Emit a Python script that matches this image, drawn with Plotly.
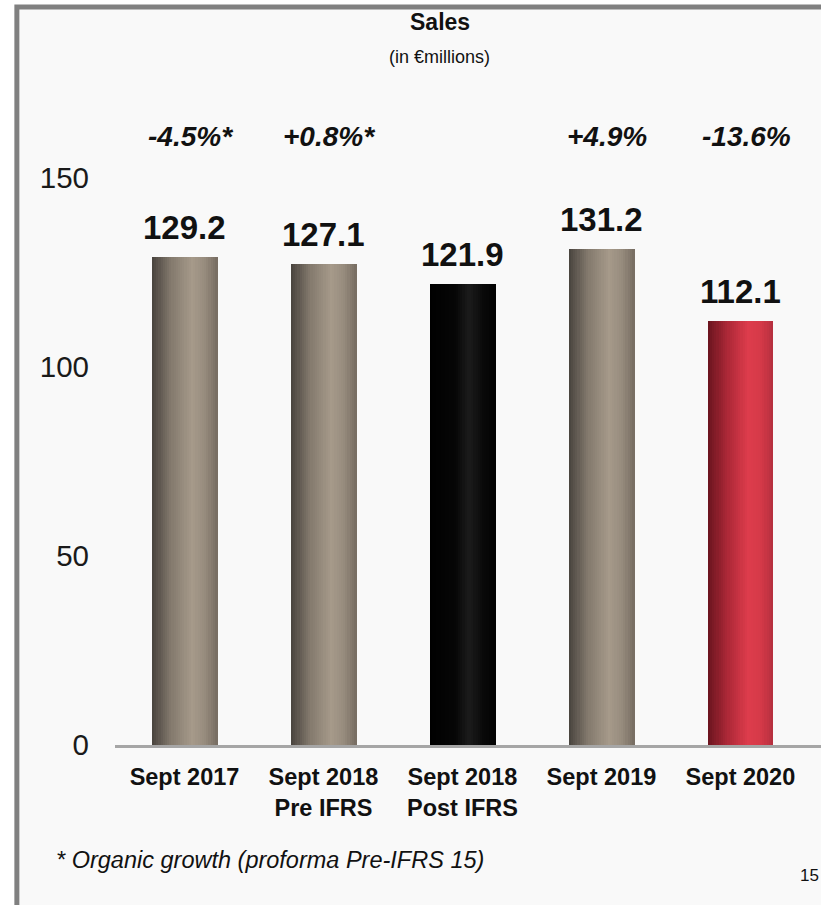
import plotly.graph_objects as go

# ---- data ----
categories = ["Sept 2017", "Sept 2018<br>Pre IFRS", "Sept 2018<br>Post IFRS", "Sept 2019", "Sept 2020"]
sales = [129.2, 127.1, 121.9, 131.2, 112.1]
growth = ["-4.5%*", "+0.8%*", None, "+4.9%", "-13.6%"]
bar_style = ["taupe", "taupe", "black", "taupe", "red"]
y_ticks = [0, 50, 100, 150]

# ---- cylinder shading: colour stops across the width of each bar ----
shades = {
    "taupe": [(0.0, (72, 67, 61)), (0.3, (132, 122, 110)), (0.62, (166, 154, 138)),
              (0.82, (150, 139, 125)), (1.0, (118, 108, 97))],
    "black": [(0.0, (0, 0, 0)), (0.4, (6, 6, 6)), (0.6, (28, 28, 28)),
              (0.8, (10, 10, 10)), (1.0, (2, 2, 2))],
    "red":   [(0.0, (105, 20, 30)), (0.3, (172, 40, 55)), (0.62, (222, 60, 76)),
              (0.82, (212, 57, 72)), (1.0, (180, 47, 62))],
}


def shade(style, t):
    stops = shades[style]
    for (t0, c0), (t1, c1) in zip(stops, stops[1:]):
        if t0 <= t <= t1:
            f = (t - t0) / (t1 - t0) if t1 > t0 else 0
            r, g, b = (round(a + (b_ - a) * f) for a, b_ in zip(c0, c1))
            return f"rgb({r},{g},{b})"
    r, g, b = stops[-1][1]
    return f"rgb({r},{g},{b})"


x = list(range(len(categories)))
bar_w = 0.47
n_strips = 30
step = bar_w / n_strips

fig = go.Figure()
for i in range(n_strips):
    t = (i + 0.5) / n_strips
    fig.add_trace(go.Bar(
        x=x, y=sales,
        width=step * 1.2,
        offset=-bar_w / 2 + i * step,
        marker=dict(color=[shade(s, t) for s in bar_style], line=dict(width=0)),
        hoverinfo="skip", showlegend=False,
    ))

# value labels above each bar
for xi, v in zip(x, sales):
    fig.add_annotation(x=xi, y=v, text=f"<b>{v:.1f}</b>", showarrow=False,
                       yanchor="bottom", yshift=9,
                       font=dict(size=33, color="#111111"))

# growth labels in the top band
for xi, g in zip(x, growth):
    if g:
        fig.add_annotation(x=xi, y=161, text=f"<b><i>{g}</i></b>", showarrow=False,
                           yanchor="middle", xshift=6,
                           font=dict(size=28, color="#111111"))

# titles and footnotes
fig.add_annotation(xref="paper", yref="paper", x=0.46, y=1.121, text="<b>Sales</b>",
                   showarrow=False, yanchor="middle", font=dict(size=23, color="#111111"))
fig.add_annotation(xref="paper", yref="paper", x=0.46, y=1.067, text="(in €millions)",
                   showarrow=False, yanchor="middle", font=dict(size=18, color="#111111"))
fig.add_annotation(xref="paper", yref="paper", x=-0.087, y=-0.178,
                   text="<i>* Organic growth (proforma Pre-IFRS 15)</i>",
                   showarrow=False, xanchor="left", yanchor="middle",
                   font=dict(size=23.5, color="#111111"))
fig.add_annotation(xref="paper", yref="paper", x=0.968, y=-0.203, text="15",
                   showarrow=False, xanchor="left", yanchor="middle",
                   font=dict(size=17, color="#111111"))

# slide frame
fig.add_shape(type="rect", xref="paper", yref="paper",
              x0=-0.139, x1=1.05, y0=-0.3, y1=1.144,
              line=dict(color="#808080", width=5), fillcolor="#f9f9f9", layer="below")

fig.update_layout(
    width=821, height=905,
    margin=dict(l=115, r=0, t=100, b=160),
    paper_bgcolor="white", plot_bgcolor="rgba(0,0,0,0)",
    barmode="overlay", bargap=0,
    font=dict(family="Arial, Liberation Sans, sans-serif", color="#111111"),
    xaxis=dict(range=[-0.5, 4.58], tickvals=x, ticktext=[f"<b>{c}</b>" for c in categories],
               tickfont=dict(size=23.5, color="#111111"), showgrid=False, zeroline=False,
               showline=True, linecolor="#a6a6a6", linewidth=3, ticks="",
               ticklabelstandoff=9, fixedrange=True),
    yaxis=dict(range=[0, 170.6], tickvals=y_ticks, showgrid=False, zeroline=False,
               showline=False, ticks="", ticklabelstandoff=25,
               tickfont=dict(size=29.5, color="#1a1a1a"), fixedrange=True),
)

fig.write_html("out.html")
